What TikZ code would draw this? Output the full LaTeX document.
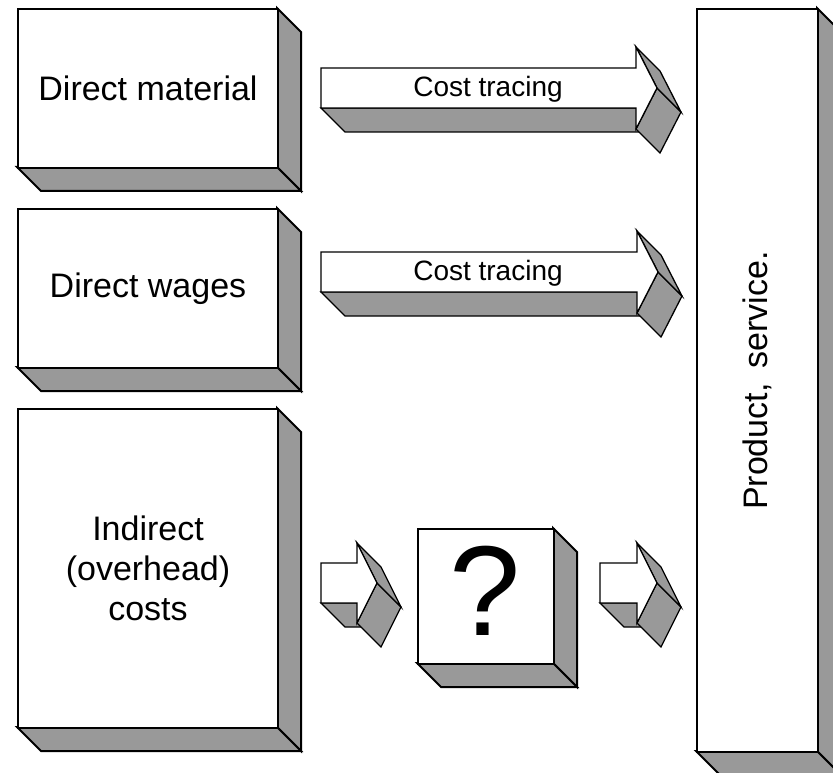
\documentclass[tikz,border=0pt]{standalone}
\usepackage{fontspec}
\setmainfont{Liberation Sans}
\definecolor{sidegray}{RGB}{153,153,153}
\tikzset{
  boxfront/.style={fill=white, draw=black, line width=2pt, line join=miter, inner sep=0pt, anchor=north west},
  boxface/.style={fill=sidegray, draw=black, line width=2pt, line join=miter},
  arrfront/.style={fill=white, draw=black, line width=1.3pt, line join=miter},
  arrface/.style={fill=sidegray, draw=black, line width=1.3pt, line join=miter},
  boxtext/.style={font=\fontsize{34}{40}\selectfont, align=center, inner sep=0pt},
  arrtext/.style={font=\fontsize{28}{32}\selectfont, inner sep=0pt},
}
\newcommand\dep{24}
% name, x1, y1, x2, y2
\newcommand\boxthreed[5]{%
  \draw[boxface] (#4,#3) -- ({#4+\dep},{#3+\dep}) -- ({#4+\dep},{#5+\dep}) -- (#4,#5) -- cycle;
  \draw[boxface] (#2,#5) -- (#4,#5) -- ({#4+\dep},{#5+\dep}) -- ({#2+\dep},{#5+\dep}) -- cycle;
  \node[boxfront, minimum width={(#4-#2)*1pt}, minimum height={(#5-#3)*1pt}] (#1) at (#2,#3) {};
}
% name, x0, ytop, ybot, xhead, yheadtop, xtip, yheadbot
\newcommand\blockarrow[8]{%
  \pgfmathsetmacro\ym{(#3+#4)/2}
  \coordinate (#1-tip) at (#7,\ym);
  \draw[arrface] (#2,#4) -- (#5,#4) -- ({#5+\dep},{#4+\dep}) -- ({#2+\dep},{#4+\dep}) -- cycle;
  \draw[arrface] (#1-tip) -- ({#7+\dep},{\ym+\dep}) -- ({#5+\dep},{#8+\dep}) -- (#5,#8) -- cycle;
  \draw[arrface] (#5,#6) -- (#1-tip) -- ({#7+\dep},{\ym+\dep}) -- ({#5+\dep},{#6+\dep}) -- cycle;
  \draw[arrfront] (#2,#3) -- (#5,#3) -- (#5,#6) -- (#1-tip) -- (#5,#8) -- (#5,#4) -- (#2,#4) -- cycle;
}
\begin{document}
\begin{tikzpicture}[x=1pt, y=-1pt]
\useasboundingbox (0,0) rectangle (833,773);
\clip (0,0) rectangle (833,773);

\boxthreed{mat}{17}{8}{277}{167}
\node[boxtext] at (mat.center) {Direct material};
\boxthreed{wag}{17}{208}{277}{367}
\node[boxtext] at (wag.center) {Direct wages};
\boxthreed{ind}{17}{408}{277}{727}
\node[boxtext] at (ind.center) {Indirect\\(overhead)\\costs};
\boxthreed{q}{417}{528}{553}{663}
\node[font=\fontsize{128}{128}\selectfont, inner sep=0pt] (qmark) at (485,591) {?};
\boxthreed{prod}{696}{8}{817}{751}
\node[boxtext, rotate=90] at (prod.center) {Product,\, service.};

\blockarrow{a1}{321}{68}{108}{636}{47}{657}{129}
\node[arrtext] (t1) at (488,89) {Cost tracing};
\blockarrow{a2}{321}{252}{292}{637}{231}{658}{313}
\node[arrtext] (t2) at (488,273) {Cost tracing};
\blockarrow{a3}{321}{563}{603}{357}{543}{377}{623}
\blockarrow{a4}{600}{563}{603}{637}{543}{657}{623}
\end{tikzpicture}
\end{document}
